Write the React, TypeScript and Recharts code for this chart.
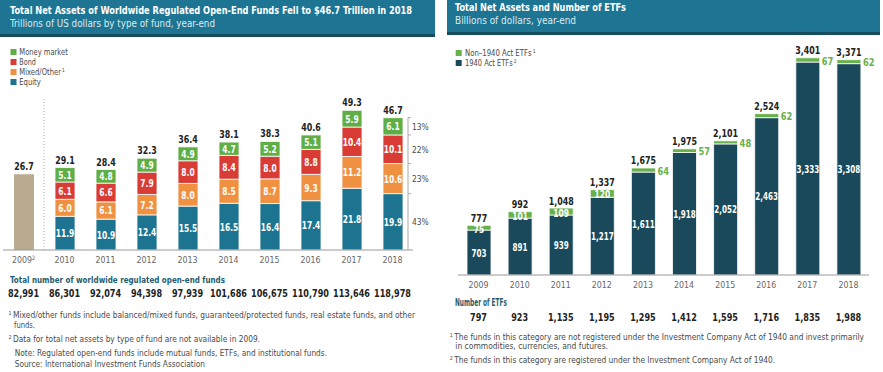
import React from 'react';
import { BarChart, Bar, XAxis, YAxis, LabelList, ReferenceLine } from 'recharts';

document.body.style.margin = '0';

const FONT = '"DejaVu Sans Condensed", "DejaVu Sans", sans-serif';

// left panel: worldwide regulated open-end funds (trillions USD)
const years = ['2009', '2010', '2011', '2012', '2013', '2014', '2015', '2016', '2017', '2018'];
const equity = [0, 11.9, 10.9, 12.4, 15.5, 16.5, 16.4, 17.4, 21.8, 19.9];
const mixed = [0, 6.0, 6.1, 7.2, 8.0, 8.5, 8.7, 9.3, 11.2, 10.6];
const bond = [0, 6.1, 6.6, 7.9, 8.0, 8.4, 8.0, 8.8, 10.4, 10.1];
const money = [0, 5.1, 4.8, 4.9, 4.9, 4.7, 5.2, 5.1, 5.9, 6.1];
const untyped = [26.7, 0, 0, 0, 0, 0, 0, 0, 0, 0];
const totals = [26.7, 29.1, 28.4, 32.3, 36.4, 38.1, 38.3, 40.6, 49.3, 46.7];
const fundCounts = [82991, 86301, 92074, 94398, 97939, 101686, 106675, 110790, 113646, 118978];
const shares2018 = { equity: 43, mixed: 23, bond: 22, money: 13 };

// right panel: ETFs (billions USD)
const act1940 = [703, 891, 939, 1217, 1611, 1918, 2052, 2463, 3333, 3308];
const non1940 = [75, 101, 109, 120, 64, 57, 48, 62, 67, 62];
const etfTotals = [777, 992, 1048, 1337, 1675, 1975, 2101, 2524, 3401, 3371];
const etfCounts = [797, 923, 1135, 1195, 1295, 1412, 1595, 1716, 1835, 1988];
const lastInsideYear = '2012';

const fundData = years.map((year, i) => ({
  year,
  equity: equity[i],
  mixed: mixed[i],
  bond: bond[i],
  money: money[i],
  untyped: untyped[i],
}));

const etfData = years.map((year, i) => ({
  year,
  act1940: act1940[i],
  non1940: non1940[i],
}));

const C = {
  header: '#1e7593',
  headerEdge: '#154c5e',
  money: '#5fae46',
  bond: '#d93b35',
  mixed: '#ef9141',
  equity: '#1d7490',
  untyped: '#b9ab90',
  etfDark: '#19495a',
  etfGreen: '#68b04a',
  text: '#4a4a4a',
  tick: '#666',
  heading: '#1f5d70',
};

const fmt1 = (v: number) => v.toFixed(1);
const fmtInt = (v: number) => v.toLocaleString('en-US');

const box = (p: any) => p.viewBox ?? p;

// horizontally squeezed svg text (the original uses a condensed face)
const SText = ({ x, y, k = 0.82, anchor = 'middle', dy = '0.35em', children, ...rest }: any) => (
  <text transform={`translate(${x},${y}) scale(${k},1)`} textAnchor={anchor} dy={dy} fontFamily={FONT} {...rest}>
    {children}
  </text>
);

// text stretched to the width it has in the original; optional leading / trailing superscript
const Fit = ({ x, y, w, size = 8.5, pre, post, children, fill = C.text, ...rest }: any) => (
  <text x={x} y={y} fontSize={size} textLength={w} lengthAdjust="spacingAndGlyphs" fontFamily={FONT} fill={fill} {...rest}>
    {pre && <tspan fontSize={5.5} dy={-3}>{pre}</tspan>}
    {pre ? <tspan dy={3} dx={1.5}>{children}</tspan> : children}
    {post && <tspan fontSize={5.5} dy={-3.5} dx={1.2}>{post}</tspan>}
  </text>
);

const centerLabel = (format: (v: number) => string, k = 0.84) => (p: any) => {
  if (!p.value) return null;
  const { x, y, width, height } = box(p);
  return (
    <SText x={x + width / 2} y={y + height / 2 + 0.5} k={k} fontSize={10} fontWeight="bold" fill="#fff">
      {format(p.value)}
    </SText>
  );
};

// used with dataKey="year", so the year identifies the column
const topLabel = (vals: number[], format: (v: number) => string, gap: number) => (p: any) => {
  const i = years.indexOf(p.value);
  if (i < 0) return null;
  const { x, y, width } = box(p);
  return (
    <SText x={x + width / 2} y={y - gap} dy={0} k={0.84} fontSize={10.5} fontWeight="bold" fill="#222">
      {format(vals[i])}
    </SText>
  );
};

const bracket = (pct: number) => (p: any) => {
  if (p.value !== years[years.length - 1]) return null;
  const { x, y, width, height } = box(p);
  const bx = x + width + 5;
  return (
    <g>
      <line x1={bx} y1={y} x2={bx} y2={y + height} stroke="#aaa" strokeWidth={1} />
      <line x1={bx} y1={y} x2={bx + 3} y2={y} stroke="#aaa" strokeWidth={1} />
      <SText x={bx + 4} y={y + height / 2} anchor="start" k={0.88} fontSize={9.5} fill={C.text}>
        {pct}%
      </SText>
    </g>
  );
};

const greenLabel = (p: any) => {
  const { x, y, width, height } = box(p);
  const year = p.value;
  const i = years.indexOf(year);
  if (i < 0) return null;
  if (year <= lastInsideYear) {
    return (
      <SText x={x + width / 2} y={y + height / 2 + 1.5} k={0.84} fontSize={10} fontWeight="bold" fill="#fff">
        {non1940[i]}
      </SText>
    );
  }
  return (
    <SText x={x + width + 2} y={y + height / 2 + 1} anchor="start" k={0.88} fontSize={10.5} fontWeight="bold" fill={C.etfGreen}>
      {non1940[i]}
    </SText>
  );
};

const YearTick = (p: any) => (
  <SText x={p.x} y={p.y} dy="0.71em" k={0.92} fontSize={9.5} fill={C.tick}>
    {p.payload.value}
    {p.sup && p.payload.value === years[0] && <tspan fontSize={6} dy={-3}>2</tspan>}
  </SText>
);

const CountRow = ({ x0, band, y, values }: any) => (
  <g>
    {values.map((v: number, i: number) => (
      <SText key={i} x={x0 + band * (i + 0.5)} y={y} dy={0} k={0.9} fontSize={10} fontWeight="bold" fill="#222">
        {fmtInt(v)}
      </SText>
    ))}
  </g>
);

const Overlay = () => (
  <svg width={883} height={372} style={{ position: 'absolute', left: 0, top: 0 }}>
    {/* headers */}
    <rect x={0} y={0} width={435} height={34} fill={C.header} />
    <rect x={0} y={34} width={435} height={3} fill={C.headerEdge} />
    <Fit x={10} y={13.5} w={402} size={11} fontWeight="bold" fill="#fff">
      Total Net Assets of Worldwide Regulated Open-End Funds Fell to $46.7 Trillion in 2018
    </Fit>
    <Fit x={10} y={27} w={205} size={10} fill="#dcebf0">Trillions of US dollars by type of fund, year-end</Fit>

    <rect x={447} y={0} width={433} height={32} fill={C.header} />
    <rect x={447} y={32} width={433} height={3} fill={C.headerEdge} />
    <Fit x={455} y={10.5} w={171} size={11} fontWeight="bold" fill="#fff">Total Net Assets and Number of ETFs</Fit>
    <Fit x={455} y={24} w={121} size={10} fill="#dcebf0">Billions of dollars, year-end</Fit>

    {/* legends */}
    <rect x={10.5} y={49} width={6} height={6} fill={C.money} />
    <Fit x={19.3} y={55} w={48.5}>Money market</Fit>
    <rect x={10.5} y={59} width={6} height={6} fill={C.bond} />
    <Fit x={19.3} y={65} w={16.5}>Bond</Fit>
    <rect x={10.5} y={69} width={6} height={6} fill={C.mixed} />
    <Fit x={19.3} y={75} w={45.5} post="1">Mixed/Other</Fit>
    <rect x={10.5} y={79} width={6} height={6} fill={C.equity} />
    <Fit x={19.3} y={85} w={21.5}>Equity</Fit>

    <rect x={455.7} y={50} width={6} height={6} fill={C.etfGreen} />
    <Fit x={465} y={56} w={70.5} post="1">Non–1940 Act ETFs</Fit>
    <rect x={455.7} y={60} width={6} height={6} fill={C.etfDark} />
    <Fit x={465} y={66} w={51.5} post="2">1940 Act ETFs</Fit>

    {/* left tables and notes */}
    <Fit x={10} y={282.5} w={215} size={9.5} fontWeight="bold" fill={C.heading}>
      Total number of worldwide regulated open-end funds
    </Fit>
    <CountRow x0={3} band={41} y={296.5} values={fundCounts} />
    <Fit x={8.5} y={318.3} w={406.5} pre="1">
      Mixed/other funds include balanced/mixed funds, guaranteed/protected funds, real estate funds, and other
    </Fit>
    <Fit x={14} y={328} w={21}>funds.</Fit>
    <Fit x={8.5} y={342.3} w={251.5} pre="2">Data for total net assets by type of fund are not available in 2009.</Fit>
    <Fit x={14.7} y={355.7} w={312.3}>Note: Regulated open-end funds include mutual funds, ETFs, and institutional funds.</Fit>
    <Fit x={14.7} y={367} w={190.3}>Source: International Investment Funds Association</Fit>

    {/* right tables and notes */}
    <Fit x={455} y={306.3} w={52} size={10.5} fontWeight="bold" fill={C.heading}>Number of ETFs</Fit>
    <CountRow x0={458} band={41.1} y={320.7} values={etfCounts} />
    <Fit x={449.7} y={340.3} w={414.3} pre="1">
      The funds in this category are not registered under the Investment Company Act of 1940 and invest primarily
    </Fit>
    <Fit x={455.3} y={349.3} w={152.7}>in commodities, currencies, and futures.</Fit>
    <Fit x={449.7} y={363.3} w={325.3} pre="2">The funds in this category are registered under the Investment Company Act of 1940.</Fit>
  </svg>
);

export default function App() {
  return (
    <div style={{ position: 'relative', width: 883, height: 372, background: '#fff', overflow: 'hidden' }}>
      <Overlay />

      <div style={{ position: 'absolute', left: 0, top: 0 }}>
        <BarChart width={883} height={275} data={fundData} margin={{ top: 97, right: 470, left: 3, bottom: 0 }} barSize={20}>
          <XAxis dataKey="year" height={25} tickLine={false} tickSize={0} tickMargin={6} axisLine={{ stroke: '#999' }} tick={<YearTick sup />} interval={0} />
          <YAxis hide domain={[0, 54]} />
          <ReferenceLine x="2009" position="end" stroke="#aaa" strokeDasharray="1 2" />
          <Bar dataKey="equity" stackId="a" fill={C.equity} stroke="#fff" strokeWidth={0.8} isAnimationActive={false}>
            <LabelList dataKey="equity" content={centerLabel(fmt1)} />
            <LabelList dataKey="year" content={bracket(shares2018.equity)} />
          </Bar>
          <Bar dataKey="mixed" stackId="a" fill={C.mixed} stroke="#fff" strokeWidth={0.8} isAnimationActive={false}>
            <LabelList dataKey="mixed" content={centerLabel(fmt1)} />
            <LabelList dataKey="year" content={bracket(shares2018.mixed)} />
          </Bar>
          <Bar dataKey="bond" stackId="a" fill={C.bond} stroke="#fff" strokeWidth={0.8} isAnimationActive={false}>
            <LabelList dataKey="bond" content={centerLabel(fmt1)} />
            <LabelList dataKey="year" content={bracket(shares2018.bond)} />
          </Bar>
          <Bar dataKey="money" stackId="a" fill={C.money} stroke="#fff" strokeWidth={0.8} isAnimationActive={false}>
            <LabelList dataKey="money" content={centerLabel(fmt1)} />
            <LabelList dataKey="year" content={bracket(shares2018.money)} />
            <LabelList dataKey="year" content={topLabel(totals, fmt1, 4)} />
          </Bar>
          <Bar dataKey="untyped" stackId="a" fill={C.untyped} isAnimationActive={false}>
            <LabelList dataKey="year" content={topLabel(totals, fmt1, 4)} />
          </Bar>
        </BarChart>
      </div>

      <div style={{ position: 'absolute', left: 0, top: 0 }}>
        <BarChart width={883} height={300} data={etfData} margin={{ top: 45, right: 14, left: 458, bottom: 0 }} barSize={24}>
          <XAxis dataKey="year" height={25} tickLine={false} tickSize={0} tickMargin={6} axisLine={{ stroke: '#999' }} tick={<YearTick />} interval={0} />
          <YAxis hide domain={[0, 3600]} />
          <Bar dataKey="act1940" stackId="e" fill={C.etfDark} stroke="#fff" strokeWidth={0.8} isAnimationActive={false}>
            <LabelList dataKey="act1940" content={centerLabel(fmtInt, 0.8)} />
          </Bar>
          <Bar dataKey="non1940" stackId="e" fill={C.etfGreen} stroke="#fff" strokeWidth={0.8} isAnimationActive={false}>
            <LabelList dataKey="year" content={greenLabel} />
            <LabelList dataKey="year" content={topLabel(etfTotals, fmtInt, 3.5)} />
          </Bar>
        </BarChart>
      </div>
    </div>
  );
}
